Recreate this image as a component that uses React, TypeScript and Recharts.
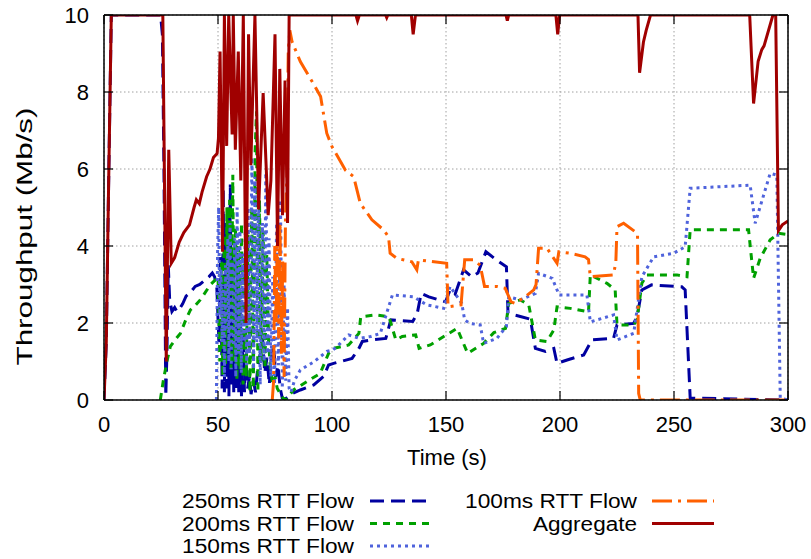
import React from 'react';
import { LineChart, Line, XAxis, YAxis, CartesianGrid, Legend } from 'recharts';

const FONT = "'Liberation Sans', Arial, Helvetica, sans-serif";

const xTicks = [0, 50, 100, 150, 200, 250, 300];
const yTicks = [0, 2, 4, 6, 8, 10];
const xLabel = 'Time (s)';
const yLabel = 'Throughput (Mb/s)';

// [time (s), throughput (Mb/s)]
const flow250: [number, number][] = [
  [0, 0], [1, 1.5], [2, 5.5], [3.2, 10], [24.8, 10], [25.6, 9.5], [26.3, 6], [27.1, 0.1], [27.6, 1.2], [28.2, 3.5],
  [28.8, 2.6], [29.8, 2.3], [31, 2.4], [32, 2.3], [33, 2.35], [34.5, 2.5], [36, 2.7], [38, 2.8], [40, 2.95], [42, 3.0],
  [44, 3.1], [46, 3.2], [47.5, 3.3], [48.5, 3.2], [49.5, 2.9], [50.4, 1.5], [51.2, 3.8], [51.8, 0.3], [52.3, 5.5],
  [52.8, 0.2], [53.3, 4.6], [53.8, 0.3], [54.3, 5.0], [54.8, 0.1], [55.4, 5.6], [55.9, 0.4], [56.4, 3.8], [56.9, 0.2],
  [57.5, 4.2], [58, 0.3], [58.6, 3.4], [59.1, 0.2], [59.7, 2.6], [60.3, 0.1], [61, 1.8], [61.6, 0.2], [62.2, 1.2],
  [63, 0.3], [63.8, 0.6], [64.5, 0.15], [65.5, 0.5], [66.5, 0.2], [67.5, 0.9], [68.5, 1.2], [69.5, 1.6], [70.5, 0.7],
  [71.5, 1.1], [72.5, 0.4], [73.5, 1.2], [74.5, 1.4], [75.3, 0.6], [76.3, 0.9], [77.3, 0.3], [78.2, 0.05], [79.5, 0.02],
  [81, 0.1], [83, 0.18], [86.1, 0.26], [92, 0.39], [96.3, 0.61], [98.5, 0.91], [100.7, 0.95], [108.8, 1.08],
  [111.8, 1.34], [113.3, 1.52], [117.5, 1.56], [123.6, 1.6], [125.8, 2.08], [135.4, 2.04], [137.4, 2.25], [139.1, 2.77],
  [142.5, 2.68], [149.8, 2.55], [151.8, 2.86], [154, 2.75], [157.7, 3.38], [161.3, 3.2], [164, 3.3], [167.5, 3.85],
  [172.3, 3.63], [176.5, 3.46], [177.2, 2.25], [182.6, 2.17], [187, 2.1], [189.2, 1.34], [193.6, 1.26], [197.3, 1.34],
  [198.7, 0.95], [203.1, 1.04], [210.4, 1.17], [214, 1.56], [223.5, 1.6], [225, 1.95], [232.3, 1.99], [233.8, 2.17],
  [235.9, 2.86], [240.2, 2.99], [253.4, 2.94], [254.9, 2.86], [257.1, 0.05], [300, 0],
];

const flow200: [number, number][] = [
  [24.7, 0], [26, 0.5], [27.6, 1.0], [29.1, 1.39], [31, 1.55], [33.5, 1.73], [36, 2.1], [37.9, 2.34], [40, 2.45],
  [42.2, 2.6], [44.5, 2.8], [46.6, 2.99], [48.5, 3.1], [50, 3.2], [50.8, 1.0], [51.5, 3.6], [52.1, 0.6], [52.7, 4.3],
  [53.3, 0.9], [53.9, 5.0], [54.5, 1.2], [55.1, 5.2], [55.7, 0.8], [56.5, 5.85], [57.1, 1.0], [57.7, 4.5], [58.3, 0.5],
  [59, 4.0], [59.6, 0.8], [60.3, 4.6], [61, 0.4], [61.7, 3.6], [62.4, 0.6], [63.2, 4.3], [64, 0.2], [64.8, 5.0],
  [65.5, 0.3], [66.3, 6.5], [66.9, 7.5], [67.5, 0.2], [68.2, 5.2], [69, 1.0], [69.8, 4.4], [70.6, 0.8], [71.4, 3.8],
  [72.2, 1.5], [73, 0.8], [74, 0.4], [75, 0.6], [76, 0.3], [77, 0.2], [78.5, 0.05], [79.5, 0], [81, 0.1], [83.1, 0.26],
  [89, 0.48], [94.8, 0.69], [98.5, 1.21], [100.7, 1.34], [107.3, 1.43], [111.8, 1.73], [112.6, 2.16], [119.1, 2.21],
  [125, 2.16], [128, 1.56], [130.8, 1.65], [136.7, 1.69], [138.2, 1.34], [143.1, 1.43], [149, 1.65], [154.9, 1.86],
  [159.5, 1.21], [166.5, 1.47], [171, 1.75], [176.1, 1.86], [177.5, 2.51], [182.6, 2.6], [186.3, 2.47], [189.2, 1.56],
  [194.3, 1.52], [197.3, 1.82], [198.7, 2.42], [204.5, 2.38], [212.5, 2.29], [213.3, 3.25], [220.6, 3.03], [224.2, 2.86],
  [225, 1.95], [232.3, 1.95], [233.8, 2.08], [235.9, 3.03], [238.1, 3.25], [251.3, 3.25], [255.7, 3.2], [257.1, 4.42],
  [282.7, 4.42], [284.9, 3.16], [287.8, 3.68], [292.2, 4.16], [295.9, 4.33], [299.5, 4.3],
];

const flow150: [number, number][] = [
  [49.3, 0], [49.8, 3.8], [50.3, 5.0], [50.8, 2.2], [51.3, 3.4], [51.8, 1.5], [52.3, 3.0], [52.8, 0.6], [53.3, 3.5],
  [53.8, 1.8], [54.3, 4.2], [54.8, 1.0], [55.3, 4.6], [55.8, 0.8], [56.3, 3.6], [56.8, 1.4], [57.3, 4.2], [57.8, 0.6],
  [58.4, 5.0], [59, 1.2], [59.6, 4.4], [60.2, 0.7], [60.8, 3.8], [61.4, 1.5], [62, 4.6], [62.6, 0.9], [63.2, 5.0],
  [63.8, 1.2], [64.9, 6.3], [65.6, 0.8], [66.3, 5.8], [67, 1.5], [67.8, 5.4], [68.5, 0.4], [69.5, 4.6], [70.2, 1.0],
  [71, 5.9], [71.7, 1.2], [72.4, 4.2], [73.2, 0.6], [74, 3.2], [74.8, 0.4], [75.7, 4.6], [76.5, 0.9], [77.4, 5.2],
  [78.2, 0.3], [79, 3.0], [79.7, 0.5], [80.5, 2.4], [81.2, 0.3], [82, 0.2], [83.5, 0.5], [86.1, 0.78], [92, 0.99],
  [97.7, 1.26], [100.5, 1.3], [103.6, 1.47], [107.3, 1.69], [112, 1.6], [117, 1.65], [121.2, 1.73], [125.8, 2.6],
  [126.5, 2.73], [135.8, 2.68], [141.6, 2.47], [149, 2.38], [151.8, 2.95], [156.9, 2.51], [158.2, 2.08], [160.4, 1.99],
  [165, 1.95], [166.5, 1.47], [172.3, 1.6], [176.5, 1.91], [177.5, 2.68], [182.6, 2.6], [189.2, 2.77], [190.6, 3.29],
  [196.6, 3.16], [199.6, 2.73], [211.8, 2.73], [213.3, 2.03], [223.5, 2.21], [225, 1.56], [232.3, 1.73], [235.9, 3.2],
  [241.1, 3.72], [249.8, 3.81], [254.9, 3.98], [257.1, 5.5], [283.4, 5.58], [285.6, 4.59], [292.2, 5.89], [295.1, 5.84],
  [296.6, 0.05], [300, 0],
];

const flow100: [number, number][] = [
  [73.8, 0], [74.4, 0.5], [74.9, 4.0], [75.5, 2.0], [76, 4.4], [76.6, 1.6], [77.2, 4.6], [77.8, 1.2], [78.4, 3.6],
  [79, 0.6], [79.6, 4.8], [80.2, 5.8], [80.8, 9.0], [81.5, 9.6], [82.5, 9.3], [86.1, 8.79], [92, 8.2], [95, 7.88],
  [97.7, 6.93], [100, 6.58], [105.9, 5.97], [109.5, 5.8], [112.4, 5.11], [117.5, 4.68], [122.6, 4.42], [124.8, 4.24],
  [125.5, 3.81], [128.4, 3.68], [135, 3.59], [137.2, 3.38], [137.9, 3.64], [150.3, 3.55], [150.9, 2.42], [156.6, 2.47],
  [158.2, 3.64], [162, 3.64], [165, 3.5], [166.9, 2.95], [172.3, 2.95], [176, 2.9], [178.5, 2.55], [180.3, 2.51],
  [184.7, 2.68], [188.5, 2.86], [189.5, 3.0], [190.6, 3.94], [194.3, 3.94], [198.7, 3.55], [199.5, 3.85], [204.5, 3.81],
  [211, 3.72], [212.5, 3.65], [213.3, 3.2], [223.5, 3.25], [224.5, 3.6], [225, 4.5], [227.9, 4.59], [233, 4.37],
  [234, 4.3], [234.5, 0.17], [235.2, 0], [300, 0],
];

const aggregate: [number, number][] = [
  [0, 0], [1, 1.5], [2, 5.5], [3.2, 10], [25.8, 10], [27.3, 1.0], [28.4, 6.5], [29.5, 3.55], [31, 3.7], [33, 4.1],
  [35, 4.35], [37.5, 4.55], [39.5, 5.0], [40.5, 5.2], [41.8, 5.1], [43, 5.4], [45, 5.8], [46.5, 6.0], [48, 6.3],
  [49.6, 6.4], [50.2, 6.8], [50.9, 9.05], [52.0, 3.85], [52.8, 10], [53.8, 6.6], [54.7, 10], [56.2, 6.9], [56.7, 10],
  [57.6, 6.5], [58.9, 9.05], [60.0, 5.7], [61.1, 10], [62.3, 2.0], [63.4, 9.5], [64.4, 6.1], [66.2, 10], [67.8, 4.95],
  [69.8, 7.97], [72.0, 4.8], [73.2, 5.7], [75.0, 9.5], [76.1, 4.0], [77.1, 8.6], [78.3, 4.8], [79.4, 8.3], [80.5, 4.6],
  [81.2, 10], [110.5, 10], [111.2, 9.85], [112, 10], [123.5, 10], [124, 9.93], [124.5, 10], [134.8, 10], [135.6, 9.5],
  [136.6, 10], [176.3, 10], [176.9, 9.85], [177.5, 10], [198.2, 10], [199, 9.5], [199.8, 10], [234.2, 10], [234.9, 8.5],
  [236.6, 9.3], [237.8, 9.6], [239.7, 10], [283.2, 10], [284.9, 7.7], [286.9, 8.8], [288.5, 9.1], [289.5, 9.2],
  [293.4, 10], [294.6, 10], [295.8, 4.4], [297.5, 4.55], [300, 4.65],
];

const seriesNames = ['250ms RTT Flow', '200ms RTT Flow', '150ms RTT Flow', '100ms RTT Flow', 'Aggregate'];
const seriesColors = ['#0000a0', '#00a000', '#4f63dc', '#ff6000', '#a00000'];
const seriesDashes = ['14 7', '7 6', '3 4', '20 6 3 6', undefined];
const seriesPoints = [flow250, flow200, flow150, flow100, aggregate];

const toRows = (pts: [number, number][]) => pts.map(([t, v]) => ({ t, v }));

function LeftTick(props: any) {
  const { x, y, payload } = props;
  return (
    <g>
      <line x1={x} y1={y} x2={x + 9} y2={y} stroke="#000" strokeWidth={1.2} />
      <text x={x - 15} y={y + 8} textAnchor="end" fontSize={22} fontFamily={FONT} fill="#000">
        {payload.value}
      </text>
    </g>
  );
}
function RightTick(props: any) {
  const { x, y } = props;
  return <line x1={x - 9} y1={y} x2={x} y2={y} stroke="#000" strokeWidth={1.2} />;
}
function BottomTick(props: any) {
  const { x, y, payload } = props;
  return (
    <g>
      <line x1={x} y1={y} x2={x} y2={y - 9} stroke="#000" strokeWidth={1.2} />
      <text x={x} y={y + 31.5} textAnchor="middle" fontSize={22} fontFamily={FONT} fill="#000">
        {payload.value}
      </text>
    </g>
  );
}
function TopTick(props: any) {
  const { x, y } = props;
  return <line x1={x} y1={y} x2={x} y2={y + 9} stroke="#000" strokeWidth={1.2} />;
}

function XLabel(props: any) {
  const vb = props.viewBox || { x: 104, y: 400, width: 684, height: 159 };
  return (
    <text x={vb.x + vb.width / 2 + 1} y={vb.y + 65} textAnchor="middle" fontSize={22} fontFamily={FONT} fill="#000">
      {xLabel}
    </text>
  );
}
function YLabel(props: any) {
  const vb = props.viewBox || { x: 0, y: 15, width: 104, height: 385 };
  const cx = vb.x + 31.5;
  const cy = vb.y + vb.height / 2 + 29;
  return (
    <text
      x={cx}
      y={cy}
      transform={`rotate(-90, ${cx}, ${cy})`}
      textAnchor="middle"
      fontSize={22}
      fontFamily={FONT}
      fill="#000"
      textLength={258}
      lengthAdjust="spacingAndGlyphs"
    >
      {yLabel}
    </text>
  );
}

function LegendBox() {
  const rows = [
    { i: 0, col: 0, row: 0 },
    { i: 1, col: 0, row: 1 },
    { i: 2, col: 0, row: 2 },
    { i: 3, col: 1, row: 0 },
    { i: 4, col: 1, row: 1 },
  ];
  const textRight = [354, 637];
  const sampleX = [370, 652];
  const rowY = [501, 523.5, 546];
  return (
    <svg
      width={811}
      height={559}
      style={{ position: 'absolute', left: 0, top: 0, overflow: 'visible', pointerEvents: 'none' }}
    >
      {rows.map((r) => (
        <g key={r.i}>
          <text
            x={textRight[r.col]}
            y={rowY[r.row] + 7}
            textAnchor="end"
            fontSize={20}
            fontFamily={FONT}
            fill="#000"
            textLength={r.i === 4 ? 104 : 172}
            lengthAdjust="spacingAndGlyphs"
          >
            {seriesNames[r.i]}
          </text>
          <line
            x1={sampleX[r.col]}
            x2={sampleX[r.col] + 62}
            y1={rowY[r.row]}
            y2={rowY[r.row]}
            stroke={seriesColors[r.i]}
            strokeWidth={3}
            strokeDasharray={seriesDashes[r.i]}
          />
        </g>
      ))}
    </svg>
  );
}

export default function App() {
  return (
    <div style={{ position: 'absolute', left: 0, top: 0, width: 811, height: 559, background: '#fff' }}>
      <LineChart width={811} height={559} margin={{ top: 0, right: 0, bottom: 0, left: 0 }}>
        <CartesianGrid xAxisId="b" yAxisId="l" stroke="#a0a0a0" strokeDasharray="1.5 2.5" strokeWidth={1} />
        <XAxis
          xAxisId="t"
          orientation="top"
          type="number"
          dataKey="t"
          domain={[0, 300]}
          ticks={xTicks}
          height={15}
          axisLine={{ stroke: '#000', strokeWidth: 1.5 }}
          tickLine={false}
          tickSize={0}
          tickMargin={0}
          tick={<TopTick />}
          allowDataOverflow
        />
        <XAxis
          xAxisId="b"
          orientation="bottom"
          type="number"
          dataKey="t"
          domain={[0, 300]}
          ticks={xTicks}
          height={159}
          axisLine={{ stroke: '#000', strokeWidth: 1.5 }}
          tickLine={false}
          tickSize={0}
          tickMargin={0}
          tick={<BottomTick />}
          label={<XLabel />}
          allowDataOverflow
        />
        <YAxis
          yAxisId="l"
          orientation="left"
          type="number"
          domain={[0, 10]}
          ticks={yTicks}
          width={104}
          axisLine={{ stroke: '#000', strokeWidth: 1.5 }}
          tickLine={false}
          tickSize={0}
          tickMargin={0}
          tick={<LeftTick />}
          label={<YLabel />}
          allowDataOverflow
        />
        <YAxis
          yAxisId="r"
          orientation="right"
          type="number"
          domain={[0, 10]}
          ticks={yTicks}
          width={23}
          axisLine={{ stroke: '#000', strokeWidth: 1.5 }}
          tickLine={false}
          tickSize={0}
          tickMargin={0}
          tick={<RightTick />}
          allowDataOverflow
        />
        {seriesPoints.map((pts, i) => (
          <Line
            key={seriesNames[i]}
            name={seriesNames[i]}
            data={toRows(pts)}
            dataKey="v"
            xAxisId="b"
            yAxisId="l"
            type="linear"
            stroke={seriesColors[i]}
            strokeWidth={3}
            strokeDasharray={seriesDashes[i]}
            dot={false}
            activeDot={false}
            isAnimationActive={false}
          />
        ))}
        <Legend
          content={<LegendBox />}
          wrapperStyle={{ position: 'absolute', left: 0, top: 0, width: 811, height: 0 }}
        />
      </LineChart>
    </div>
  );
}
